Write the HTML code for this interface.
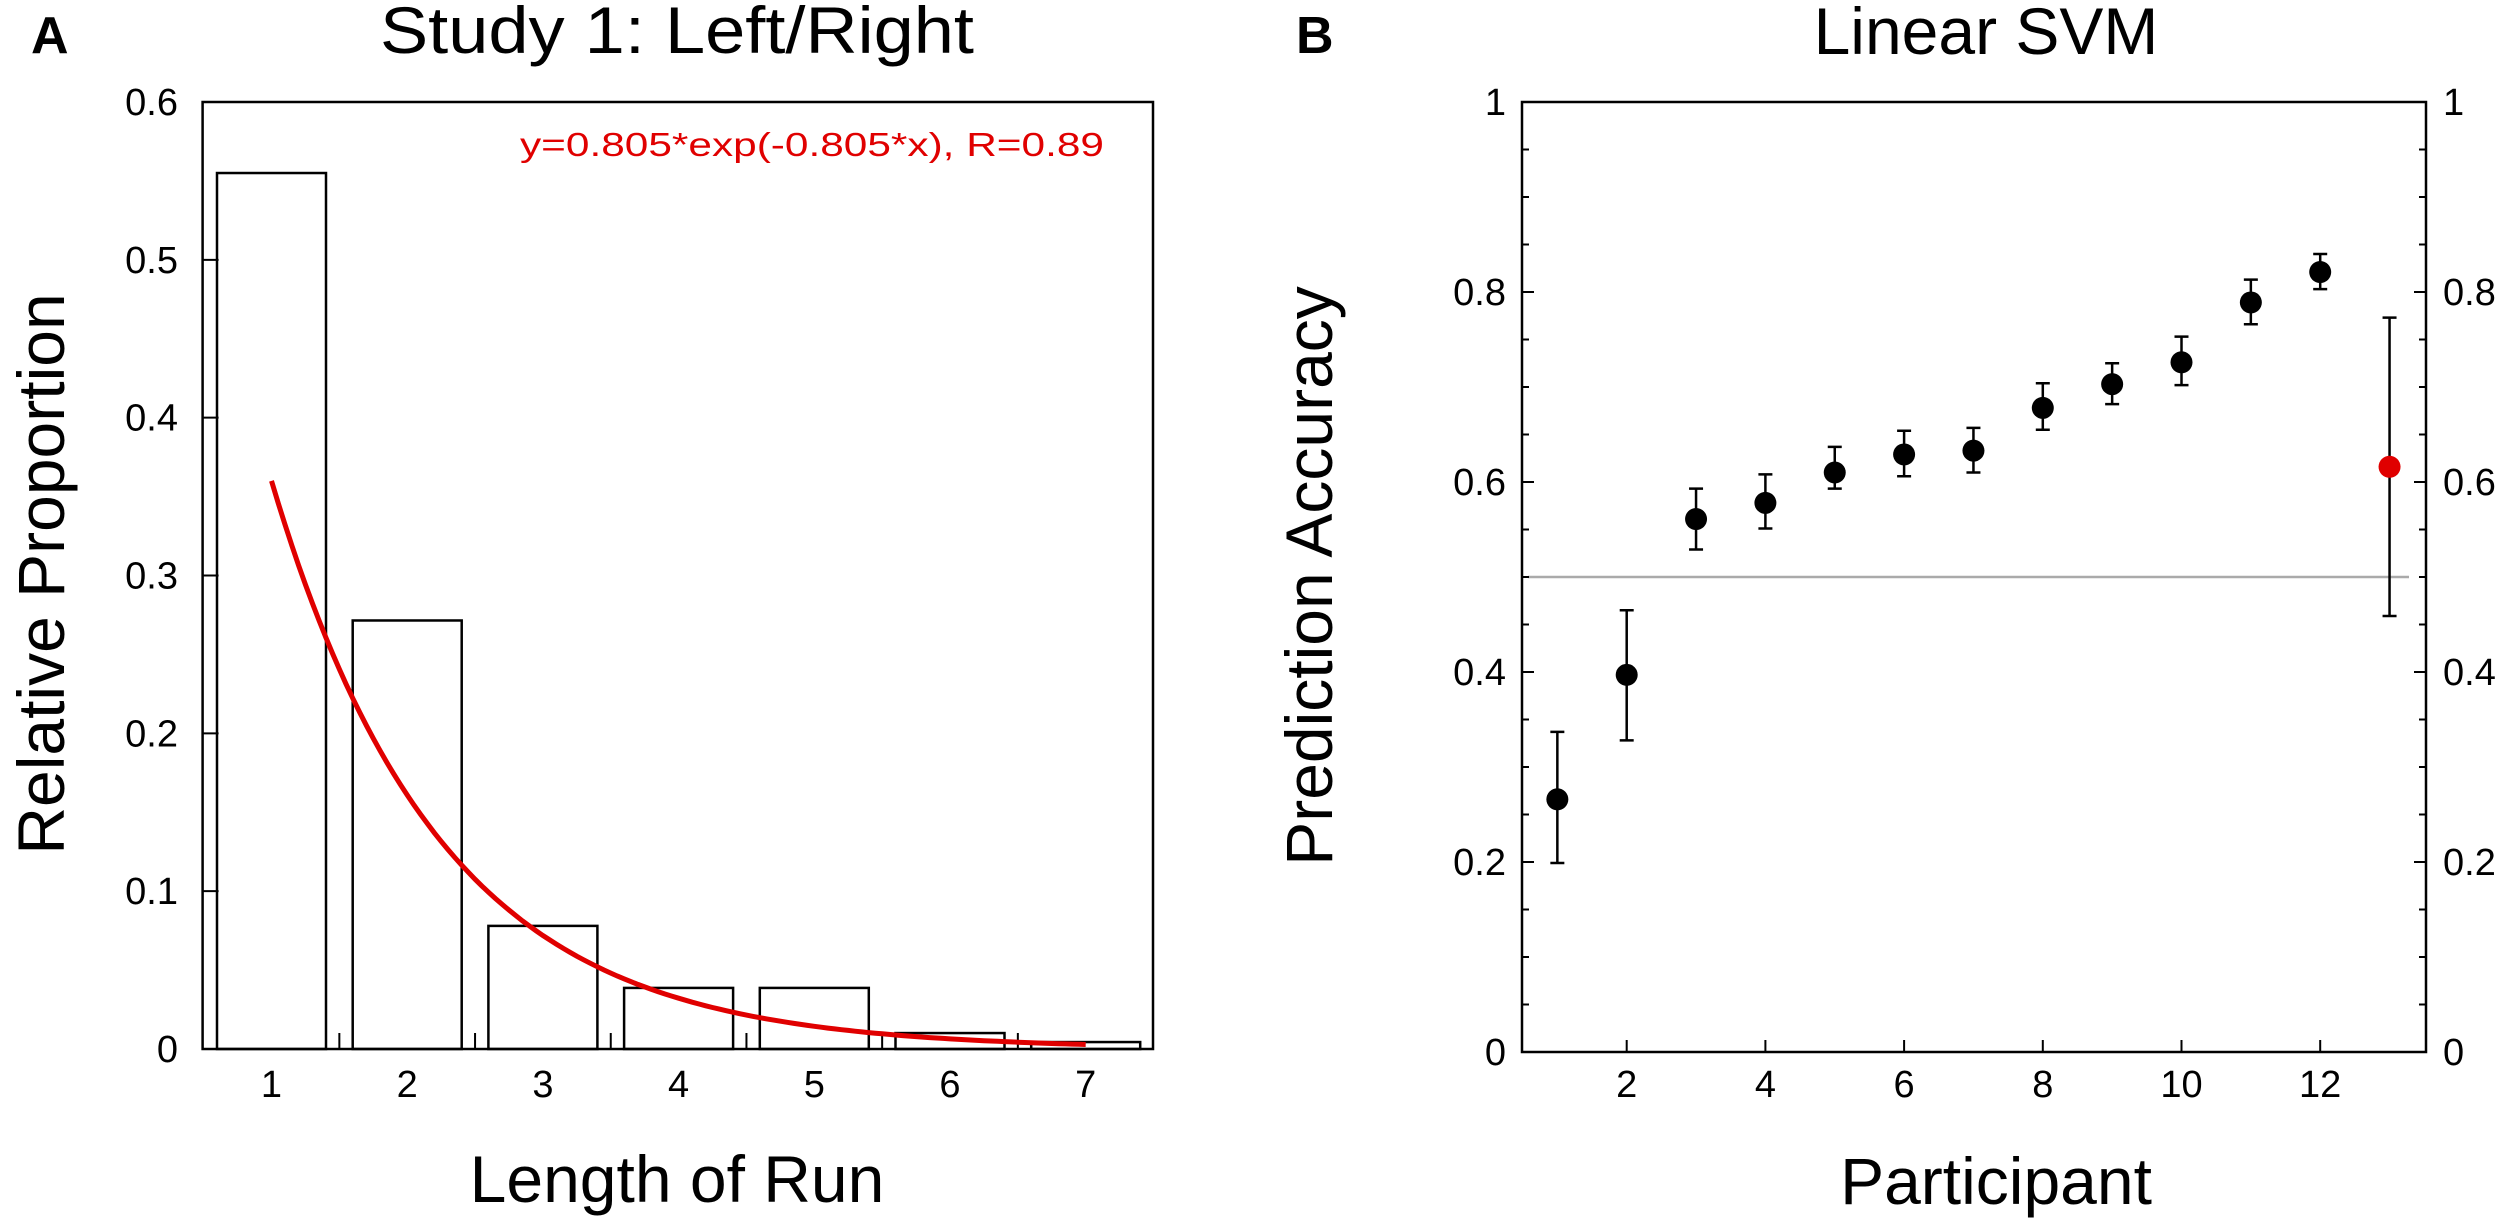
<!DOCTYPE html>
<html><head><meta charset="utf-8"><style>
html,body{margin:0;padding:0;background:#fff;}
svg{display:block;font-family:"Liberation Sans",sans-serif;}
</style></head><body>
<svg id="fig" width="2500" height="1221" viewBox="0 0 2500 1221" xmlns="http://www.w3.org/2000/svg">
<rect x="0" y="0" width="2500" height="1221" fill="#fff"/>
<g id="pa"></g>
<g id="pb"></g>
</svg>
<script>
// ---- Panel A data ----
const runLengths = [1, 2, 3, 4, 5, 6, 7];
const proportions = [0.555, 0.2715, 0.078, 0.0387, 0.0387, 0.0101, 0.0044];
const yTicksA = [0, 0.1, 0.2, 0.3, 0.4, 0.5, 0.6];
const yTickLabelsA = ["0", "0.1", "0.2", "0.3", "0.4", "0.5", "0.6"];
const fitA = [0.805];
const fitB = [-0.805];
// ---- Panel B data ----
const participants = [1, 2, 3, 4, 5, 6, 7, 8, 9, 10, 11, 12, 13];
const accuracy = [0.266, 0.397, 0.561, 0.578, 0.610, 0.629, 0.633, 0.678, 0.703, 0.726, 0.789, 0.821, 0.616];
const errHigh = [0.337, 0.465, 0.593, 0.608, 0.637, 0.654, 0.657, 0.704, 0.725, 0.753, 0.813, 0.840, 0.773];
const errLow = [0.199, 0.328, 0.529, 0.551, 0.593, 0.606, 0.610, 0.655, 0.682, 0.702, 0.766, 0.803, 0.459];
const xTicksB = [2, 4, 6, 8, 10, 12];
const yTicksB = [0, 0.2, 0.4, 0.6, 0.8, 1];
const yTickLabelsB = ["0", "0.2", "0.4", "0.6", "0.8", "1"];
const chanceLevel = [0.5];

const NS = "http://www.w3.org/2000/svg";
function mk(parent, tag, attrs, text) {
  const e = document.createElementNS(NS, tag);
  for (const k in attrs) e.setAttribute(k, attrs[k]);
  if (text !== undefined) e.textContent = text;
  parent.appendChild(e);
  return e;
}

// ===== Panel A =====
const A = document.getElementById('pa');
const axL = 202.6, axR = 1153, axT = 102, axB = 1049;
const xA = v => 271.5 + (v - 1) * 135.7;
const yA = v => axB - v * (axB - axT) / 0.6;
let t;
t = mk(A, 'text', {x: 31, y: 53, 'font-size': 52, 'font-weight': 'bold'}, 'A');
 
t = mk(A, 'text', {x: 677, y: 53, 'font-size': 66, 'text-anchor': 'middle', textLength: 594, lengthAdjust: 'spacingAndGlyphs'}, 'Study 1: Left/Right');
 

proportions.forEach((p, i) => {
  const cx = xA(runLengths[i]);
  const r = mk(A, 'rect', {x: cx - 54.5, y: yA(p), width: 109, height: yA(0) - yA(p), fill: '#fff', stroke: '#000', 'stroke-width': 2.5});
  
  
});
// minor ticks between bars
for (let i = 0; i < runLengths.length - 1; i++) {
  const x = xA(runLengths[i] + 0.5);
  const l = mk(A, 'line', {x1: x, x2: x, y1: axB, y2: axB - 16, stroke: '#000', 'stroke-width': 2});
   
}
// frame
const fa = mk(A, 'rect', {x: axL, y: axT, width: axR - axL, height: axB - axT, fill: 'none', stroke: '#000', 'stroke-width': 2.5});
 
yTicksA.forEach((v, i) => {
  const y = yA(v);
  if (i > 0 && i < yTicksA.length - 1) {
    const l = mk(A, 'line', {x1: axL, x2: axL + 16, y1: y, y2: y, stroke: '#000', 'stroke-width': 2});
     
  }
  const tx = mk(A, 'text', {x: 178, y: y + 13, 'font-size': 38, 'text-anchor': 'end'}, yTickLabelsA[i]);
   
});
runLengths.forEach(v => {
  const tx = mk(A, 'text', {x: xA(v), y: 1097, 'font-size': 38, 'text-anchor': 'middle'}, String(v));
   
});
// fit curve
let d = '';
for (let k = 0; k <= 120; k++) {
  const xv = runLengths[0] + (runLengths[runLengths.length - 1] - runLengths[0]) * k / 120;
  const yv = fitA[0] * Math.exp(fitB[0] * xv);
  d += (k ? 'L' : 'M') + xA(xv).toFixed(1) + ' ' + yA(yv).toFixed(1);
}
const fc = mk(A, 'path', {d: d, fill: 'none', stroke: '#e00000', 'stroke-width': 5});
 
t = mk(A, 'text', {x: 520, y: 156, 'font-size': 33, fill: '#e00000', textLength: 584, lengthAdjust: 'spacingAndGlyphs'}, 'y=0.805*exp(-0.805*x), R=0.89');
 
t = mk(A, 'text', {x: 677, y: 1202, 'font-size': 66, 'text-anchor': 'middle'}, 'Length of Run');
 
t = mk(A, 'text', {x: 0, y: 0, 'font-size': 66, 'text-anchor': 'middle', transform: 'translate(64,574) rotate(-90)'}, 'Relative Proportion');
 

// ===== Panel B =====
const B = document.getElementById('pb');
const bL = 1522, bR = 2426, bT = 102, bB = 1052;
const xB = v => 1488 + v * 69.35;
const yB = v => bB - v * (bB - bT);
t = mk(B, 'text', {x: 1296, y: 53, 'font-size': 52, 'font-weight': 'bold'}, 'B');
 
t = mk(B, 'text', {x: 1986, y: 54, 'font-size': 66, 'text-anchor': 'middle'}, 'Linear SVM');
 
const gl = mk(B, 'line', {x1: 1528, x2: 2409, y1: yB(chanceLevel[0]), y2: yB(chanceLevel[0]), stroke: '#aaa', 'stroke-width': 2.5});
 
const fb = mk(B, 'rect', {x: bL, y: bT, width: bR - bL, height: bB - bT, fill: 'none', stroke: '#000', 'stroke-width': 2.5});
 
for (let k = 1; k < 20; k++) {
  const y = yB(k * 0.05);
  const len = (k % 4 === 0) ? 12 : 7;
  const l1 = mk(B, 'line', {x1: bL, x2: bL + len, y1: y, y2: y, stroke: '#000', 'stroke-width': 2});
   
  const l2 = mk(B, 'line', {x1: bR, x2: bR - len, y1: y, y2: y, stroke: '#000', 'stroke-width': 2});
   
}
yTicksB.forEach((v, i) => {
  const y = yB(v);
  const t1 = mk(B, 'text', {x: 1506, y: y + 13, 'font-size': 38, 'text-anchor': 'end'}, yTickLabelsB[i]);
   
  const t2 = mk(B, 'text', {x: 2443, y: y + 13, 'font-size': 38}, yTickLabelsB[i]);
   
});
xTicksB.forEach(v => {
  const x = xB(v);
  const l = mk(B, 'line', {x1: x, x2: x, y1: bB, y2: bB - 12, stroke: '#000', 'stroke-width': 2});
   
  const tx = mk(B, 'text', {x: x, y: 1097, 'font-size': 38, 'text-anchor': 'middle'}, String(v));
   
});
participants.forEach((p, i) => {
  const x = xB(p);
  const col = (i === participants.length - 1) ? '#e00000' : '#000';
  const eb = mk(B, 'path', {d: `M${x} ${yB(errLow[i])}V${yB(errHigh[i])}M${x-7} ${yB(errLow[i])}H${x+7}M${x-7} ${yB(errHigh[i])}H${x+7}`, stroke: '#000', 'stroke-width': 2.5, fill: 'none'});
  
  
  const c = mk(B, 'ellipse', {cx: x, cy: yB(accuracy[i]), rx: 11, ry: 11, fill: col});
  
  
});
t = mk(B, 'text', {x: 1996, y: 1204, 'font-size': 66, 'text-anchor': 'middle'}, 'Participant');
 
t = mk(B, 'text', {x: 0, y: 0, 'font-size': 66, 'text-anchor': 'middle', transform: 'translate(1332,576) rotate(-90)'}, 'Prediction Accuracy');
 
</script>
</body></html>
